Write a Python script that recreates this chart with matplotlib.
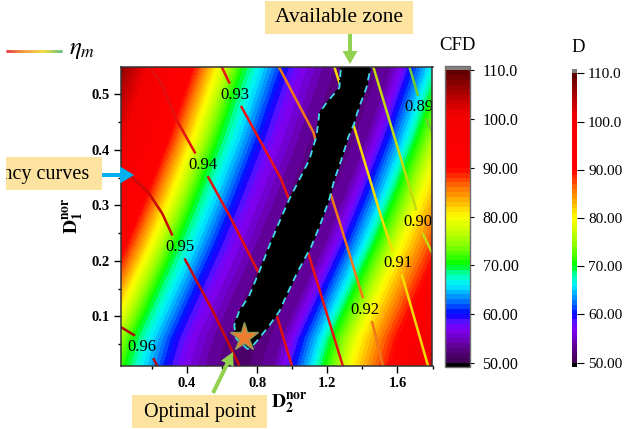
import numpy as np
import matplotlib
matplotlib.use('Agg')
import matplotlib.pyplot as plt
from matplotlib.colors import LinearSegmentedColormap
from matplotlib.collections import LineCollection
from matplotlib.patches import Rectangle, FancyArrow
from matplotlib.transforms import IdentityTransform

plt.rcParams['font.family'] = 'Liberation Serif'
plt.rcParams['mathtext.fontset'] = 'stix'

# colour scale of D (value -> colour)
scale_values = [50, 51, 53, 55, 57, 58.5, 60, 62, 64, 66, 67.5, 69, 70, 74, 77, 80,
                82, 84, 86, 88, 90, 101, 104, 107, 110]
scale_colors = ['#3c0050', '#480060', '#5c008c', '#7000c8', '#8000f8', '#5010ff', '#0000ff',
                '#0060ff', '#00a8ff', '#00f0ff', '#00ffc8', '#00ff70', '#00ff00', '#80ff00',
                '#c8ff00', '#ffff00', '#ffd000', '#ffa000', '#ff7000', '#ff3800', '#ff0000',
                '#f20000', '#c40000', '#900000', '#5c0000']
cbar_ticks = [50, 60, 70, 80, 90, 100, 110]
cbar_labels = ['50.00', '60.00', '70.00', '80.00', '90.00', '100.0', '110.0']

# D map: valley (minimum) line and the D profile across it
valley_y = [0.0, 0.06, 0.14, 0.23, 0.31, 0.42, 0.55]
valley_x = [0.69, 0.745, 0.86, 0.99, 1.095, 1.23, 1.37]
profile_off = [-1.5, -1.35, -1.18, -0.94, -0.87, -0.80, -0.65, -0.53, -0.42, -0.33, -0.2, 0.0,
               0.2, 0.26, 0.31, 0.40, 0.48, 0.64, 0.75, 0.86, 1.05, 1.2]
profile_d = [110, 107, 100, 90, 85, 80, 70, 65, 60, 57, 54, 51.2,
             54, 57, 60, 65, 70, 80, 85, 90, 100, 106]

# available zone (left / right edge at each height)
zone_y = [0.040, 0.048, 0.060, 0.084, 0.109, 0.137, 0.180, 0.227, 0.270, 0.311, 0.346, 0.382,
          0.423, 0.448, 0.466, 0.484, 0.512, 0.560]
zone_left = [0.75, 0.72, 0.68, 0.669, 0.697, 0.754, 0.811, 0.869, 0.926, 0.983, 1.04, 1.097,
             1.137, 1.148, 1.154, 1.194, 1.269, 1.28]
zone_right = [0.74, 0.777, 0.81, 0.87, 0.926, 0.966, 1.03, 1.11, 1.165, 1.211, 1.24, 1.28,
              1.32, 1.354, 1.37, 1.39, 1.423, 1.455]

# efficiency curves eta_m
eta_levels = ['0.96', '0.95', '0.94', '0.93', '0.92', '0.91', '0.90', '0.89']
eta_x = [
    [0.02, 0.114, 0.143, 0.206, 0.234],
    [0.017, 0.091, 0.177, 0.257, 0.32, 0.36, 0.389, 0.543, 0.703],
    [0.177, 0.257, 0.331, 0.446, 0.491, 0.52, 0.634, 0.806, 0.914, 1.0],
    [0.589, 0.646, 0.674, 0.714, 0.931, 0.977, 1.091, 1.291],
    [0.914, 1.12, 1.217, 1.257, 1.406, 1.417, 1.457, 1.52],
    [1.234, 1.263, 1.349, 1.503, 1.571, 1.6, 1.629, 1.777],
    [1.457, 1.703, 1.714, 1.743, 1.82],
    [1.663, 1.72, 1.72, 1.76, 1.82],
]
eta_y = [
    [0.081, 0.063, 0.045, 0.025, 0.008],
    [0.358, 0.349, 0.324, 0.286, 0.243, 0.225, 0.202, 0.112, 0.008],
    [0.555, 0.517, 0.459, 0.394, 0.373, 0.351, 0.286, 0.18, 0.099, 0.008],
    [0.555, 0.517, 0.499, 0.475, 0.351, 0.315, 0.214, 0.008],
    [0.555, 0.432, 0.322, 0.283, 0.13, 0.112, 0.088, 0.008],
    [0.555, 0.526, 0.445, 0.283, 0.219, 0.196, 0.171, 0.008],
    [0.555, 0.297, 0.27, 0.25, 0.20],
    [0.555, 0.495, 0.477, 0.457, 0.418],
]
eta_label_x = [0.143, 0.36, 0.491, 0.674, 1.417, 1.6, 1.714, 1.72]
eta_label_y = [0.045, 0.225, 0.373, 0.499, 0.112, 0.196, 0.27, 0.477]
eta_colors = ['#b00c0c', '#c80a0a', '#e21010', '#e81414', '#f07818', '#f5dc00', '#c0dc10', '#70cc30']

optimal_x = [0.726]
optimal_y = [0.062]

W, H = 625, 429
fig = plt.figure(figsize=(W / 100, H / 100), dpi=100)
ax = fig.add_axes([120.5 / W, 1 - 366.3 / H, 312 / W, 299.8 / H])
ax.set_xlim(0.02, 1.8)
ax.set_ylim(0.01, 0.55)

cmap = LinearSegmentedColormap.from_list(
    'originrainbow',
    list(zip([(v - 50) / 60 for v in scale_values], scale_colors)), N=512)
cmap.set_under('black')
cmap.set_over('#808080')

gx = np.linspace(0.0, 1.83, 600)
gy = np.linspace(0.0, 0.56, 360)
X, Y = np.meshgrid(gx, gy)
offset = X - np.interp(Y, valley_y, valley_x)
D = np.interp(offset, profile_off, profile_d)
levels = np.arange(50, 111, 1)
cf = ax.contourf(X, Y, D, levels=levels, cmap=cmap, vmin=50, vmax=110, extend='both', zorder=1)

# efficiency curves with gaps at the labels
for xs, ys, lx, ly, lab, col in zip(eta_x, eta_y, eta_label_x, eta_label_y, eta_levels, eta_colors):
    pts = ax.transData.transform(np.column_stack([xs, ys]))
    seg = np.sqrt((np.diff(pts, axis=0) ** 2).sum(axis=1))
    s = np.concatenate([[0], np.cumsum(seg)])
    t = np.linspace(0, s[-1], int(s[-1] * 2) + 2)
    dx = np.interp(t, s, pts[:, 0])
    dy = np.interp(t, s, pts[:, 1])
    c = ax.transData.transform((lx, ly))
    gap = (np.abs(dx - c[0]) < 16) & (np.abs(dy - c[1]) < 11)
    dx[gap] = np.nan
    dy[gap] = np.nan
    d = ax.transData.inverted().transform(np.column_stack([dx, dy]))
    ax.plot(d[:, 0], d[:, 1], color=col, lw=1.8, zorder=2, solid_capstyle='butt')
    ax.text(lx, ly, lab, ha='center', va='center', fontsize=12, zorder=2.5, clip_on=True)

# available zone
L = np.interp(Y, zone_y, zone_left)
R = np.interp(Y, zone_y, zone_right)
g = np.maximum(L - X, X - R)
ax.contourf(X, Y, g, levels=[-10, 0], colors='black', zorder=3)
ax.contour(X, Y, g, levels=[0], colors='#40dcec', linewidths=1.3,
           linestyles=[(0, (4, 3))], zorder=4)

ax.plot(optimal_x, optimal_y, marker='*', ms=21, mfc='#ed7d31', mec='#8a9c5a', mew=1,
        ls='none', zorder=6, clip_on=False)

ax.set_xticks([0.4, 0.8, 1.2, 1.6], ['0.4', '0.8', '1.2', '1.6'], fontweight='bold', fontsize=10.5)
ax.set_xticks([0.2, 0.6, 1.0, 1.4, 1.8], minor=True)
ax.set_yticks([0.1, 0.2, 0.3, 0.4, 0.5], ['0.1', '0.2', '0.3', '0.4', '0.5'], fontweight='bold', fontsize=10.5)
ax.set_yticks([0.05, 0.15, 0.25, 0.35, 0.45], minor=True)
ax.tick_params(which='major', length=5, width=1, pad=2.5)
ax.tick_params(which='minor', length=2.5, width=1)
for sp in ax.spines.values():
    sp.set_linewidth(1.1)
    sp.set_color('#333333')
    sp.set_zorder(7)

fx = lambda p: p / W
fy = lambda p: 1 - p / H
fig.text(fx(289), fy(404), r'$\mathbf{D}_\mathbf{2}^\mathbf{nor}$', fontsize=14, ha='center', va='center')
fig.text(fx(74), fy(216), r'$\mathbf{D}_\mathbf{1}^\mathbf{nor}$', fontsize=14, ha='center', va='center',
         rotation=90)

# colour bars
cax1 = fig.add_axes([445 / W, fy(367), 25 / W, 301 / H])
cb1 = fig.colorbar(cf, cax=cax1, extend='both', extendrect=True, extendfrac=0.015, ticks=cbar_ticks)
cb1.ax.set_yticklabels(cbar_labels, fontsize=11.5)
cb1.ax.tick_params(length=3, width=0.8, pad=6)
cb1.outline.set_edgecolor('#707070')
cb1.outline.set_linewidth(1.0)
fig.text(fx(457), fy(45), 'CFD', fontsize=13.5, ha='center', va='center')

cax2 = fig.add_axes([572 / W, fy(367), 5 / W, 298 / H])
cb2 = fig.colorbar(cf, cax=cax2, extend='both', extendrect=True, extendfrac=0.015, ticks=cbar_ticks)
cb2.ax.set_yticklabels(cbar_labels, fontsize=11)
cb2.ax.tick_params(length=5, width=0.8, pad=3)
cb2.outline.set_linewidth(0)
fig.text(fx(578), fy(48), 'D', fontsize=13.5, ha='center', va='center')

# eta_m legend
lx = np.linspace(6, 62, 60)
segs = [[(fx(a), fy(51)), (fx(b), fy(51))] for a, b in zip(lx[:-1], lx[1:])]
gcm = LinearSegmentedColormap.from_list('eta', ['#e00000', '#f08000', '#f0d000', '#30b050'])
lc = LineCollection(segs, colors=gcm(np.linspace(0, 1, len(segs))), linewidths=2,
                    transform=fig.transFigure)
fig.add_artist(lc)
fig.text(fx(69), fy(50), r'$\eta_m$', fontsize=18, ha='left', va='center')

# annotation boxes and arrows (figure pixels)
idt = IdentityTransform()
box_fc = '#fde3a0'
for (x0, y0, x1, y1) in [(265, 1, 413, 34), (132, 395, 267, 428)]:
    fig.add_artist(Rectangle((x0, H - y1), x1 - x0, y1 - y0, transform=idt, fc=box_fc, ec='none'))
fig.text(339, H - 18, 'Available zone', transform=idt, fontsize=15.5, ha='center', va='center')
fig.text(199.5, H - 412, 'Optimal point', transform=idt, fontsize=14.5, ha='center', va='center')
eff_box = Rectangle((6, H - 190), 96, 33, transform=idt, fc=box_fc, ec='none')
fig.add_artist(eff_box)
t = fig.text(89, H - 174, 'Efficiency curves', transform=idt, fontsize=14.5, ha='right', va='center')
t.set_clip_path(eff_box)

fig.add_artist(FancyArrow(350, H - 34, 0, -30, width=4, head_width=15, head_length=13,
                          length_includes_head=True, transform=idt, color='#92d050', lw=0))
fig.add_artist(FancyArrow(102, H - 175, 32, 0, width=4, head_width=17, head_length=14,
                          length_includes_head=True, transform=idt, color='#00b0f0', lw=0))
fig.add_artist(FancyArrow(213, H - 393, 20, 41, width=4, head_width=14, head_length=13,
                          length_includes_head=True, transform=idt, color='#92d050', lw=0))

fig.savefig('out.png', dpi=100)
